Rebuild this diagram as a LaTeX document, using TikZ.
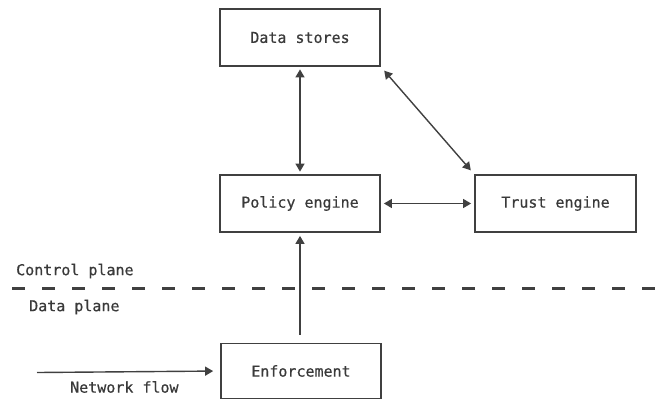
\documentclass[tikz,border=0pt]{standalone}
\usepackage{fontspec}
\setmonofont[FakeBold=0.6]{DejaVu Sans Mono}
\usetikzlibrary{arrows.meta}
\definecolor{ink}{HTML}{3A3A3A}
\definecolor{edge}{HTML}{404040}
\begin{document}
\begin{tikzpicture}[x=1bp,y=-1bp,
  every node/.style={font=\ttfamily\fontsize{15bp}{18bp}\selectfont, text=ink},
  block/.style={draw=edge, line width=1.8bp, minimum width=160bp, minimum height=57bp, inner sep=0pt},
  label/.style={inner sep=0pt, anchor=west},
  link/.style={draw=edge, line width=1.4bp},
  onetip/.style={link, -{Triangle[length=8bp,width=9bp]}},
  twotips/.style={link, {Triangle[length=8bp,width=9bp]}-{Triangle[length=8bp,width=9bp]}},
  planeline/.style={draw=edge, line width=3bp, dash pattern=on 13bp off 17bp}
]
\useasboundingbox (0,0) rectangle (664,400);

% components
\node[block] (ds) at (300,37.5) {Data stores};
\node[block] (pe) at (300,203.5) {Policy engine};
\node[block, minimum width=161bp] (te) at (555.5,203.5) {Trust engine};
\node[block, minimum height=55bp] (en) at (301,371) {Enforcement};

% control / data plane separator
\coordinate (dl) at (12,288);
\coordinate (dr) at (664,288);
\draw[planeline] (dl) -- (dr);
\node[label] (cp) at (16,271) {Control plane};
\node[label] (dp) at (29,307) {Data plane};

% connectors
\draw[twotips, shorten <=2.5bp, shorten >=2.5bp] (ds.south) -- (pe.north);
\draw[twotips, shorten <=5bp, shorten >=5bp] (ds.south east) -- (te.north west);
\draw[twotips, shorten <=3bp, shorten >=3bp] (pe.east) -- (te.west);
\draw[onetip, shorten <=8bp, shorten >=3bp] (en.north -| pe.south) -- (pe.south);

% incoming traffic
\coordinate (nf) at (37,372.5);
\draw[onetip, shorten >=7bp] (nf) -- (en.west);
\node[label] (nfl) at (70,387) {Network flow};
\end{tikzpicture}
\end{document}
